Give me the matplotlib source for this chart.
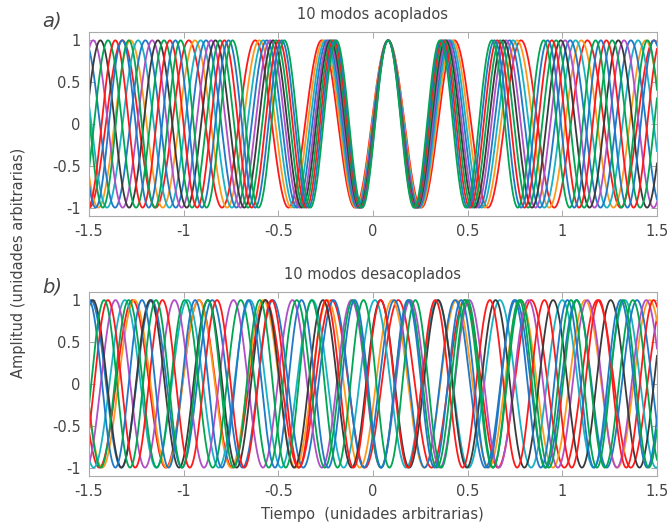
import numpy as np
import matplotlib
matplotlib.use('Agg')
import matplotlib.pyplot as plt

# mode frequencies (same set in both panels), lowest -> highest
freqs = [2.85, 2.94, 3.03, 3.12, 3.21, 3.29, 3.38, 3.47, 3.56, 3.65]
colors = ['#ff1a1a', '#ff9a1a', '#19b2c4', '#1f78c8', '#b24ec6',
          '#3a3a3a', '#00a651', '#ff1a1a', '#1f78c8', '#00a651']

# a) coupled: every mode peaks at the same instant
t_peak_coupled = 0.08

# b) uncoupled: each mode peaks at its own instant
t_peak_uncoupled = [-1.27, -1.26, -1.31, -1.49, -1.36,
                    -1.48, -1.29, -1.40, -1.22, -1.42]

xticks = [-1.5, -1, -0.5, 0, 0.5, 1, 1.5]
yticks = [-1, -0.5, 0, 0.5, 1]
xticklabels = ['-1.5', '-1', '-0.5', '0', '0.5', '1', '1.5']
yticklabels = ['-1', '-0.5', '0', '0.5', '1']

t = np.linspace(-1.5, 1.5, 3000)
txt = '#454545'

fig = plt.figure(figsize=(6.68, 5.26), dpi=100)
ax1 = fig.add_axes([0.1332, 0.5894, 0.8503, 0.3498])
ax2 = fig.add_axes([0.1332, 0.0951, 0.8503, 0.3503])

for k, f in enumerate(freqs):
    ax1.plot(t, np.cos(2 * np.pi * f * (t - t_peak_coupled)), color=colors[k], lw=1.3)
    ax2.plot(t, np.cos(2 * np.pi * f * (t - t_peak_uncoupled[k])), color=colors[k], lw=1.3)

for ax, title in [(ax1, '10 modos acoplados'), (ax2, '10 modos desacoplados')]:
    ax.set_xlim(-1.5, 1.5)
    ax.set_ylim(-1.1, 1.1)
    ax.set_xticks(xticks, xticklabels)
    ax.set_yticks(yticks, yticklabels)
    ax.tick_params(direction='in', top=True, right=True, length=4, width=0.6,
                   color='#999999', labelsize=10.5, labelcolor=txt, pad=6)
    for s in ax.spines.values():
        s.set_color('#aaaaaa')
        s.set_linewidth(0.8)
    ax.set_title(title, fontsize=10.5, color=txt, pad=9)

fig.text(0.063, 0.96, 'a)', fontsize=14, style='italic', color=txt, ha='left', va='center')
fig.text(0.063, 0.454, 'b)', fontsize=14, style='italic', color=txt, ha='left', va='center')
fig.text(0.027, 0.5, 'Amplitud (unidades arbitrarias)', rotation=90,
         ha='center', va='center', fontsize=10.5, color=txt)
fig.text(0.558, 0.022, 'Tiempo  (unidades arbitrarias)', ha='center', va='center',
         fontsize=10.5, color=txt)

fig.savefig('out.png', dpi=100)
